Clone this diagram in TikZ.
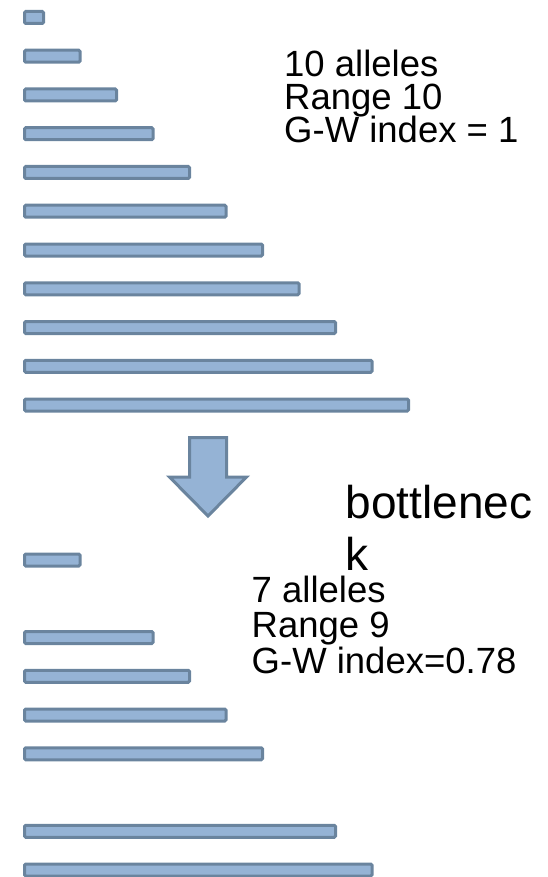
\documentclass[tikz,border=0pt]{standalone}
\usepackage{fontspec}
\setmainfont{Liberation Sans}
\definecolor{barfill}{RGB}{149,179,213}
\definecolor{barline}{RGB}{106,132,158}
\tikzset{
  barbox/.style={draw=barline, fill=barfill, line width=3pt, rounded corners=1.2pt},
  infotext/.style={anchor=base west, inner sep=0pt, font=\fontsize{36.5}{36.5}\selectfont},
  bigtext/.style={anchor=base west, inner sep=0pt, font=\fontsize{46}{52}\selectfont}
}
\begin{document}
\begin{tikzpicture}[x=1pt,y=-1pt]
\useasboundingbox (0,0) rectangle (548,877);
% top group: 11 bars
\foreach \k in {0,...,10}{
  \path[barbox] (24.5,{17.5+38.75*\k-6}) rectangle ({43.5+36.5*\k},{17.5+38.75*\k+6});
}
% bottom group
\foreach \k in {1,3,4,5,6,8,9}{
  \path[barbox] (24.5,{521.25+38.75*\k-6}) rectangle ({43.5+36.5*\k},{521.25+38.75*\k+6});
}
% arrow
\path[draw=barline, fill=barfill, line width=3pt, line join=miter]
  (189.5,437.5) -- (226.5,437.5) -- (226.5,477) -- (246.5,477) -- (208,516)
  -- (169.5,477) -- (189.5,477) -- cycle;
% texts
\node[infotext] (a1) at (284,77) {10 alleles};
\node[infotext] (a2) at (284,110) {Range 10};
\node[infotext] (a3) at (284,143) {G-W index = 1};
\node[bigtext] (b1) at (345.5,518) {bottlenec};
\node[bigtext] (b2) at (345.5,570) {k};
\node[infotext] (c1) at (251.5,602) {7 alleles};
\node[infotext] (c2) at (251.5,637.5) {Range 9};
\node[infotext] (c3) at (251.5,673) {G-W index=0.78};
\end{tikzpicture}
\end{document}
